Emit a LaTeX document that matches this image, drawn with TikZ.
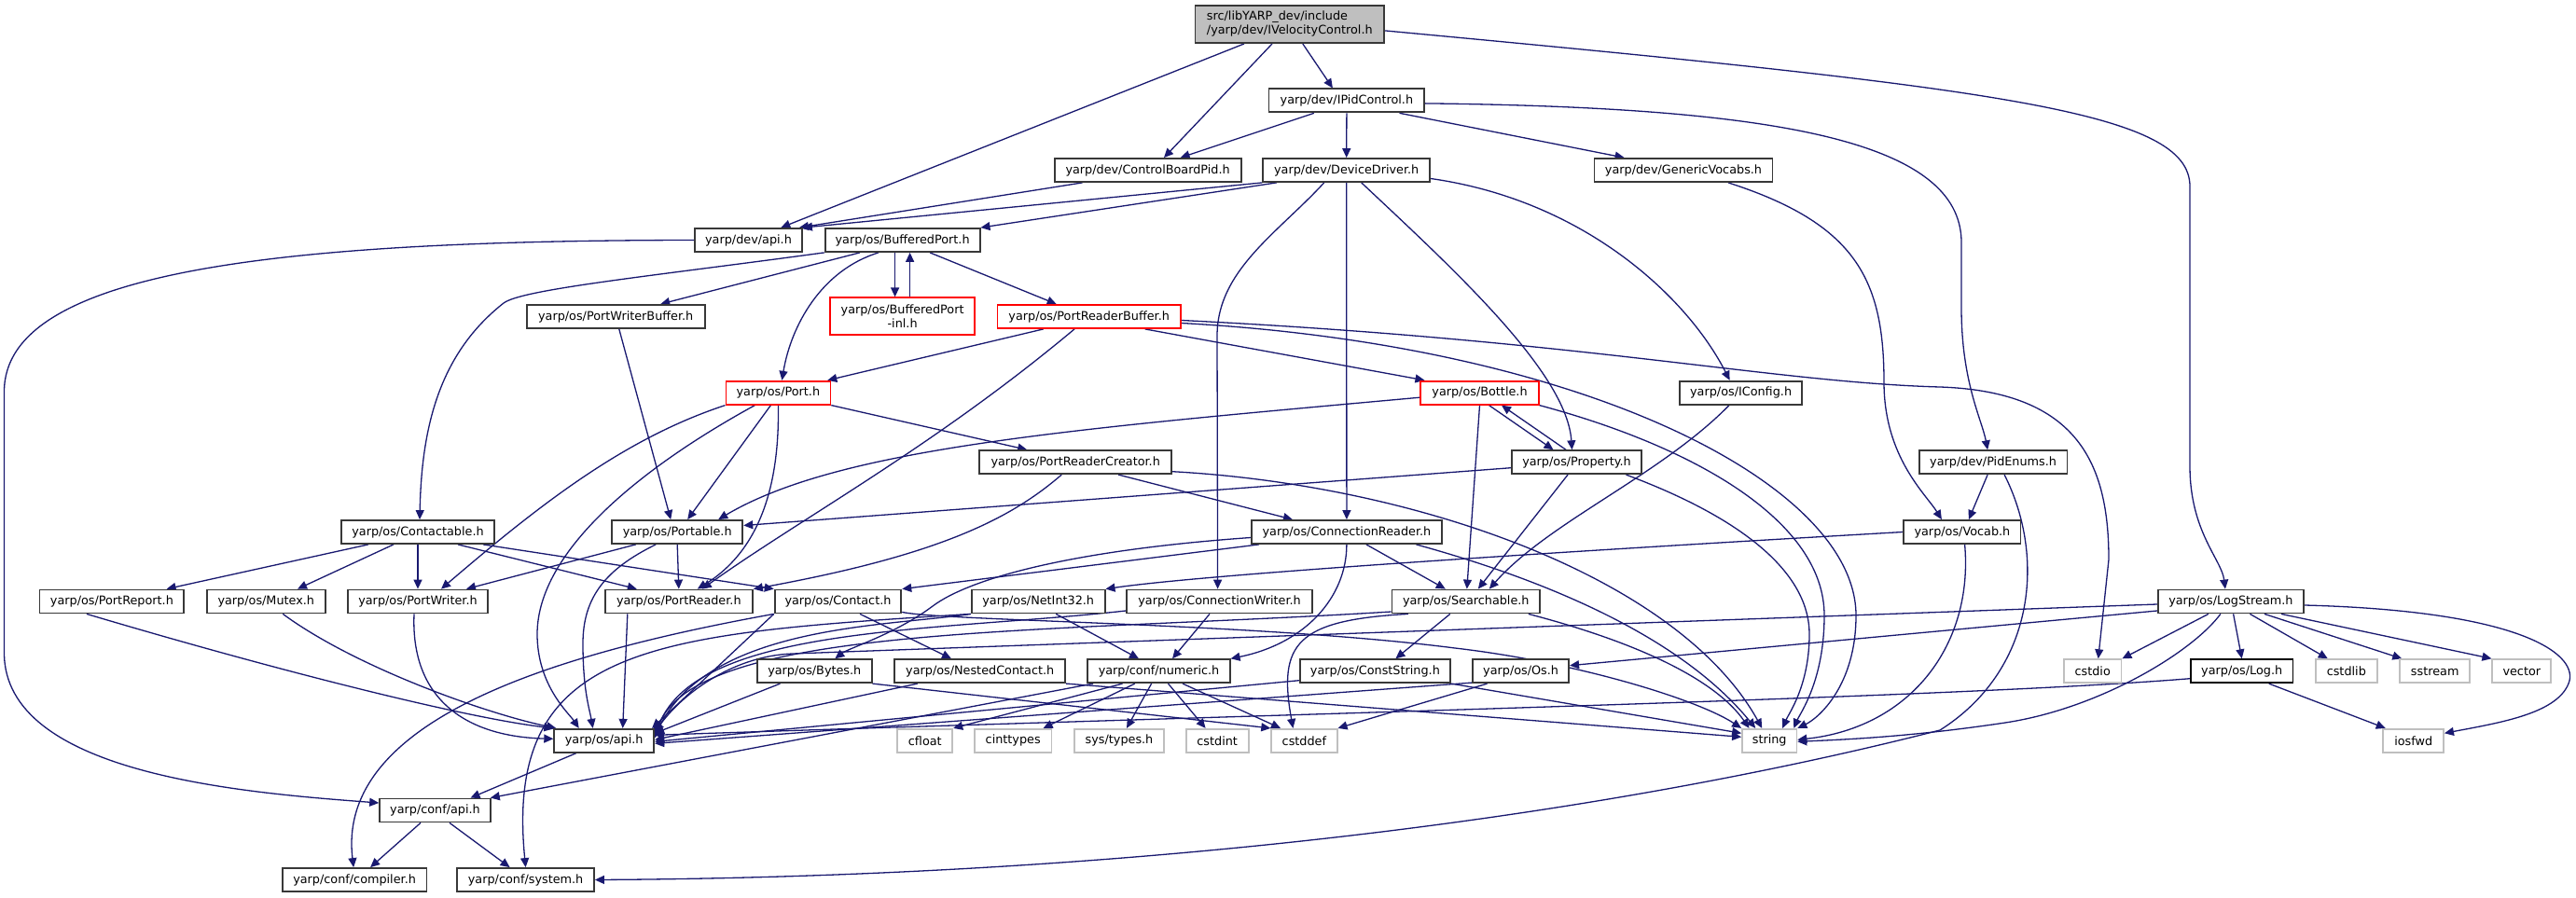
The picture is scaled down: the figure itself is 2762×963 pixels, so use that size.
\documentclass[tikz,border=0pt]{standalone}
\usepackage{fontspec}
\setmainfont{DejaVu Sans}
\usetikzlibrary{arrows.meta}
\definecolor{edgecol}{HTML}{191970}
\definecolor{boxcol}{HTML}{383838}
\definecolor{graycol}{HTML}{BFBFBF}
\definecolor{maincol}{HTML}{BFBFBF}
\pgfdeclarelayer{bg}\pgfdeclarelayer{edges}\pgfsetlayers{bg,edges,main}
\tikzset{
  hdr/.style={draw=boxcol, line width=1.8pt, fill=white, inner sep=0pt, minimum height=25pt, minimum width=#1pt, font=\fontsize{12.8}{15}\selectfont, text=black},
  redhdr/.style={hdr=#1, draw=red},
  syshdr/.style={hdr=#1, draw=graycol},
  dep/.style={draw=edgecol, line width=1.3pt, -{Triangle[length=10pt,width=9pt]}},
}
\begin{document}
\begin{tikzpicture}[x=1pt,y=-1pt]
\useasboundingbox (0,0) rectangle (2762,963);
\begin{pgfonlayer}{bg}
\fill[white] (0,0) rectangle (2762,963);
\end{pgfonlayer}
% nodes
\node[hdr=202.5, fill=maincol, minimum height=40.3pt, align=left] (main) at (1382.8,25.9) {src/libYARP\_dev/include\\/yarp/dev/IVelocityControl.h};
\node[hdr=166.8] (ipid) at (1443.9,107.9) {yarp/dev/IPidControl.h};
\node[hdr=200] (cbpid) at (1230.6,182.5) {yarp/dev/ControlBoardPid.h};
\node[hdr=178.8] (devdrv) at (1443.7,182.5) {yarp/dev/DeviceDriver.h};
\node[hdr=191] (genvoc) at (1805,182.5) {yarp/dev/GenericVocabs.h};
\node[hdr=115] (devapi) at (802.5,257.5) {yarp/dev/api.h};
\node[hdr=166] (bport) at (967.6,257.5) {yarp/os/BufferedPort.h};
\node[redhdr=154.5, minimum height=40pt, align=center] (bpinl) at (967.6,339.3) {yarp/os/BufferedPort\\-inl.h};
\node[redhdr=196.4] (prbuf) at (1167.7,339.5) {yarp/os/PortReaderBuffer.h};
\node[hdr=191] (pwbuf) at (660.2,339.5) {yarp/os/PortWriterBuffer.h};
\node[redhdr=112] (port) at (834.4,421.2) {yarp/os/Port.h};
\node[redhdr=126.3] (bottle) at (1586.5,421.2) {yarp/os/Bottle.h};
\node[hdr=131.2] (iconfig) at (1866.6,421.2) {yarp/os/IConfig.h};
\node[hdr=205.7] (prc) at (1153.2,495.7) {yarp/os/PortReaderCreator.h};
\node[hdr=139] (property) at (1690.5,495.7) {yarp/os/Property.h};
\node[hdr=158.8] (pidenums) at (2137.1,495.7) {yarp/dev/PidEnums.h};
\node[hdr=164] (contactable) at (448,570.5) {yarp/os/Contactable.h};
\node[hdr=140.3] (portable) at (726.2,570.5) {yarp/os/Portable.h};
\node[hdr=204.2] (connreader) at (1443.9,570.5) {yarp/os/ConnectionReader.h};
\node[hdr=125.3] (vocab) at (2103.9,570.5) {yarp/os/Vocab.h};
\node[hdr=154.9] (portreport) at (119.9,645) {yarp/os/PortReport.h};
\node[hdr=126.8] (mutex) at (285.3,645) {yarp/os/Mutex.h};
\node[hdr=150.4] (portwriter) at (448,645) {yarp/os/PortWriter.h};
\node[hdr=158.3] (portreader) at (727.8,645) {yarp/os/PortReader.h};
\node[hdr=135.7] (contact) at (898.5,645) {yarp/os/Contact.h};
\node[hdr=142.8] (netint) at (1113.2,645) {yarp/os/NetInt32.h};
\node[hdr=199.3] (connwriter) at (1307.6,645) {yarp/os/ConnectionWriter.h};
\node[hdr=158.5] (searchable) at (1571.8,645) {yarp/os/Searchable.h};
\node[hdr=156.2] (logstream) at (2391.9,645) {yarp/os/LogStream.h};
\node[hdr=122.7] (bytes) at (873.3,719.7) {yarp/os/Bytes.h};
\node[hdr=183] (nested) at (1050.7,719.7) {yarp/os/NestedContact.h};
\node[hdr=152.3] (numeric) at (1242.5,719.7) {yarp/conf/numeric.h};
\node[hdr=161.2] (conststring) at (1474.4,719.7) {yarp/os/ConstString.h};
\node[hdr=103.1] (os) at (1630.6,719.7) {yarp/os/Os.h};
\node[syshdr=61.6] (cstdio) at (2243.7,719.7) {cstdio};
\node[hdr=109.4, draw=black] (log) at (2403.7,719.7) {yarp/os/Log.h};
\node[syshdr=65.6] (cstdlib) at (2515.8,719.7) {cstdlib};
\node[syshdr=75] (sstream) at (2610.7,719.7) {sstream};
\node[syshdr=62.9] (vector) at (2703.8,719.7) {vector};
\node[hdr=107] (osapi) at (647.7,794.3) {yarp/os/api.h};
\node[syshdr=59] (cfloat) at (991.8,794.3) {cfloat};
\node[syshdr=82.6] (cinttypes) at (1086.2,794.3) {cinttypes};
\node[syshdr=96] (systypes) at (1200,794.3) {sys/types.h};
\node[syshdr=66.9] (cstdint) at (1305.2,794.3) {cstdint};
\node[syshdr=70.4] (cstddef) at (1398.4,794.3) {cstddef};
\node[syshdr=58.4] (string) at (1897.2,794.3) {string};
\node[syshdr=64.7] (iosfwd) at (2587.7,794.3) {iosfwd};
\node[hdr=118.8] (confapi) at (466.5,869) {yarp/conf/api.h};
\node[hdr=154.9] (compiler) at (380.1,943.5) {yarp/conf/compiler.h};
\node[hdr=146.8] (system) at (563.6,943.5) {yarp/conf/system.h};
% edges
\begin{pgfonlayer}{edges}
% main
\draw[dep] ([xshift=-48.8pt]main.south) -- ([xshift=34.8pt]devapi.north);
\draw[dep] ([xshift=-18.8pt]main.south) -- ([xshift=17.4pt]cbpid.north);
\draw[dep] ([xshift=14pt]main.south) -- ([xshift=-15pt]ipid.north);
\draw[dep] ([yshift=-7pt]main.east) .. controls (2150,95) and (2348,120) .. (2348,200) -- (2348,500) .. controls (2348,570) and (2382,600) .. ([xshift=-6pt]logstream.north);
% ipid
\draw[dep] ([xshift=-35pt]ipid.south) -- ([xshift=35pt]cbpid.north);
\draw[dep] (ipid.south) -- (devdrv.north);
\draw[dep] ([xshift=56.6pt]ipid.south) -- ([xshift=-63.4pt]genvoc.north);
\draw[dep] ([yshift=-3pt]ipid.east) .. controls (1900,115) and (2103,150) .. (2103,260) -- (2103,330) .. controls (2103,410) and (2125,450) .. ([xshift=-6pt]pidenums.north);
% cbpid, devdrv
\draw[dep] ([xshift=-70pt]cbpid.south) -- ([xshift=-4pt]devapi.north east);
\draw[dep] (devdrv.south west) -- (devapi.north east);
\draw[dep] ([xshift=-75pt]devdrv.south) -- (bport.north east);
\draw[dep] (devdrv.south) -- (connreader.north);
\draw[dep] ([xshift=-24pt]devdrv.south) .. controls (1370,250) and (1305,290) .. (1305,360) -- ([xshift=-2pt]connwriter.north);
\draw[dep] ([xshift=16pt]devdrv.south) .. controls (1560,290) and (1680,400) .. ([xshift=-5pt]property.north);
\draw[dep] ([yshift=-9pt]devdrv.east) .. controls (1700,215) and (1810,320) .. ([xshift=-12pt]iconfig.north);
% genvoc
\draw[dep] ([xshift=48pt]genvoc.south) .. controls (1990,240) and (2020,300) .. (2020,410) .. controls (2020,490) and (2065,530) .. ([xshift=-22pt]vocab.north);
% devapi
\draw[dep] (devapi.west) .. controls (300,258) and (4.5,290) .. (4.5,420) -- (4.5,700) .. controls (4.5,830) and (260,850) .. ([yshift=8pt]confapi.west);
% bport
\draw[dep] ([xshift=-8pt]bport.south) -- ([xshift=-8pt]bpinl.north);
\draw[dep] ([xshift=8pt]bpinl.north) -- ([xshift=8pt]bport.south);
\draw[dep] ([xshift=-45.6pt]bport.south) -- ([xshift=48pt]pwbuf.north);
\draw[dep] ([xshift=-25.6pt]bport.south) .. controls (880,290) and (848,350) .. ([xshift=4pt]port.north);
\draw[dep] ([xshift=29.4pt]bport.south) -- ([xshift=-35pt]prbuf.north);
\draw[dep] (bport.south west) .. controls (700,296) and (560,310) .. (540,325) .. controls (470,380) and (452,460) .. ([xshift=2pt]contactable.north);
% pwbuf
\draw[dep] ([xshift=3.6pt]pwbuf.south) -- ([xshift=-7pt]portable.north);
% prbuf
\draw[dep] ([xshift=-49pt]prbuf.south) -- ([xshift=-4pt]port.north east);
\draw[dep] ([xshift=-15.7pt]prbuf.south) .. controls (1000,480) and (860,555) .. ([xshift=25pt]portreader.north);
\draw[dep] ([xshift=60pt]prbuf.south) -- ([xshift=5pt]bottle.north west);
\draw[dep] ([yshift=-4pt]prbuf.east) .. controls (1700,365) and (1900,410) .. (2080,415) .. controls (2230,420) and (2261,500) .. (2261,600) -- ([xshift=6pt]cstdio.north);
\draw[dep] ([yshift=-7pt]prbuf.east) .. controls (1700,370) and (1990,520) .. (1990,660) .. controls (1990,735) and (1950,770) .. (string.north east);
% port
\draw[dep] ([xshift=-8pt]port.south) -- ([xshift=11pt]portable.north);
\draw[dep] (port.south) .. controls (836,520) and (815,590) .. ([xshift=20pt]portreader.north);
\draw[dep] (port.south west) .. controls (670,470) and (580,540) .. ([xshift=25pt]portwriter.north);
\draw[dep] ([xshift=-25pt]port.south) .. controls (690,500) and (576,590) .. (576,680) .. controls (576,735) and (610,765) .. ([xshift=-27pt]osapi.north);
\draw[dep] (port.south east) -- ([xshift=-52pt]prc.north);
% bottle
\draw[dep] ([yshift=-5pt]bottle.west) .. controls (1150,460) and (900,480) .. ([xshift=44pt]portable.north);
\draw[dep] ([xshift=10pt]bottle.south) -- ([xshift=-25pt]property.north);
\draw[dep] ([xshift=-11.5pt]property.north) -- ([xshift=23.5pt]bottle.south);
\draw[dep] (bottle.south) -- ([xshift=1pt]searchable.north);
\draw[dep] (bottle.south east) .. controls (1820,480) and (1956,560) .. (1956,660) .. controls (1956,730) and (1930,765) .. ([xshift=-4pt]string.north east);
% property
\draw[dep] ([yshift=-6pt]property.west) -- ([yshift=7pt]portable.east);
\draw[dep] ([xshift=-9.5pt]property.south) -- ([xshift=13pt]searchable.north);
\draw[dep] ([xshift=53pt]property.south) .. controls (1880,560) and (1940,620) .. (1940,680) .. controls (1940,735) and (1918,765) .. ([xshift=14pt]string.north);
% iconfig
\draw[dep] ([xshift=-12.6pt]iconfig.south) .. controls (1780,510) and (1660,560) .. ([xshift=25pt]searchable.north);
% prc
\draw[dep] ([xshift=-15pt]prc.south) .. controls (1085,555) and (1010,595) .. (portreader.north east);
\draw[dep] ([xshift=46pt]prc.south) -- ([xshift=-58pt]connreader.north);
\draw[dep] ([yshift=-10pt]prc.east) .. controls (1520,520) and (1800,620) .. ([xshift=-8pt]string.north);
% portable
\draw[dep] (portable.south) -- (portreader.north);
\draw[dep] ([xshift=-44.5pt]portable.south) -- ([xshift=52pt]portwriter.north);
\draw[dep] ([xshift=-23pt]portable.south) .. controls (650,610) and (625,640) .. (625,690) .. controls (625,740) and (632,760) .. ([xshift=-12pt]osapi.north);
% contactable
\draw[dep] ([xshift=-53pt]contactable.south) -- ([xshift=58.7pt]portreport.north);
\draw[dep] ([xshift=-26pt]contactable.south) -- ([xshift=33.7pt]mutex.north);
\draw[dep] (contactable.south) -- (portwriter.north);
\draw[dep] ([xshift=43pt]contactable.south) -- ([xshift=-45pt]portreader.north);
\draw[dep] ([xshift=70pt]contactable.south) -- (contact.north west);
% to os/api.h from the left row
\draw[dep] ([xshift=-27pt]portreport.south) .. controls (300,720) and (500,770) .. (osapi.north west);
\draw[dep] ([xshift=18pt]mutex.south) .. controls (380,715) and (520,765) .. ([xshift=3pt]osapi.north west);
\draw[dep] ([xshift=-4pt]portwriter.south) .. controls (440,750) and (500,790) .. ([yshift=2pt]osapi.west);
\draw[dep] ([xshift=-55pt]portreader.south) -- ([xshift=20pt]osapi.north);
% contact
\draw[dep] ([xshift=23.5pt]contact.south) -- ([xshift=-30.7pt]nested.north);
\draw[dep] ([yshift=2pt]contact.south east) .. controls (1010,666) and (1350,668) .. (1560,695) .. controls (1690,710) and (1820,750) .. (string.north west);
\draw[dep] (contact.south west) -- ([xshift=-3pt]osapi.north east);
\draw[dep] (contact.south west) .. controls (600,700) and (360,770) .. ([xshift=-1pt]compiler.north);
% connreader
\draw[dep] ([xshift=9pt]connreader.south west) -- (contact.north east);
\draw[dep] ([yshift=-6pt]connreader.west) .. controls (1150,590) and (1040,620) .. (1000,650) .. controls (960,680) and (910,695) .. ([xshift=22pt]bytes.north);
\draw[dep] (connreader.south) .. controls (1443.9,640) and (1400,690) .. (numeric.north east);
\draw[dep] ([xshift=21pt]connreader.south) -- ([xshift=-22pt]searchable.north);
\draw[dep] ([xshift=74.5pt]connreader.south) .. controls (1650,620) and (1800,680) .. ([xshift=-15pt]string.north);
% vocab, pidenums
\draw[dep] (vocab.west) .. controls (1700,590) and (1300,615) .. (netint.north east);
\draw[dep] ([xshift=2.7pt]vocab.south) .. controls (2116,690) and (2050,780) .. ([yshift=1pt]string.east);
\draw[dep] ([xshift=-6pt]pidenums.south) -- ([xshift=7pt]vocab.north);
\draw[dep] ([xshift=12pt]pidenums.south) .. controls (2195,600) and (2180,720) .. (2080,783) .. controls (1700,880) and (1200,940) .. (system.east);
% logstream
\draw[dep] ([xshift=-24pt]logstream.south) -- (cstdio.north east);
\draw[dep] ([xshift=-11pt]logstream.south) .. controls (2350,700) and (2250,760) .. (2150,775) .. controls (2050,790) and (1980,793) .. ([yshift=-1pt]string.east);
\draw[dep] ([xshift=2.7pt]logstream.south) -- (log.north);
\draw[dep] ([xshift=20.5pt]logstream.south) -- ([xshift=-20pt]cstdlib.north);
\draw[dep] ([xshift=36pt]logstream.south) -- ([xshift=3pt]sstream.north west);
\draw[dep] ([xshift=54pt]logstream.south) -- (vector.north west);
\draw[dep] ([yshift=-4pt]logstream.east) .. controls (2700,655) and (2762,700) .. (2755,730) .. controls (2745,765) and (2680,775) .. ([yshift=8pt]iosfwd.east);
\draw[dep] ([yshift=-10pt]logstream.west) -- ([yshift=6pt]os.east);
\draw[dep] ([yshift=-3pt]logstream.west) -- (850,701) .. controls (790,703) and (735,740) .. ([yshift=-4pt]osapi.north east);
% log
\draw[dep] ([yshift=-8pt]log.west) .. controls (2100,748) and (1400,765) .. ([yshift=6pt]osapi.east);
\draw[dep] ([xshift=29pt]log.south) -- ([xshift=-30pt]iosfwd.north);
% searchable
\draw[dep] ([yshift=-11pt]searchable.west) .. controls (1100,680) and (740,670) .. ([yshift=4pt]osapi.east);
\draw[dep] ([xshift=-17pt]searchable.south) -- ([xshift=22pt]conststring.north);
\draw[dep] ([xshift=67pt]searchable.south) .. controls (1760,690) and (1840,730) .. ([xshift=-21.7pt]string.north);
\draw[dep] ([xshift=-62pt]searchable.south) .. controls (1390,665) and (1370,690) .. ([xshift=-12pt]cstddef.north);
% conststring, os
\draw[dep] ([yshift=-10pt]conststring.west) -- ([yshift=-1pt]osapi.east);
\draw[dep] (conststring.south east) -- ([yshift=8pt]string.west);
\draw[dep] ([yshift=1pt]os.south west) -- ([yshift=-3pt]osapi.east);
\draw[dep] ([xshift=-36pt]os.south) -- (cstddef.north east);
% netint, connwriter
\draw[dep] ([xshift=19pt]netint.south) -- ([xshift=-21.5pt]numeric.north);
\draw[dep] (netint.south west) .. controls (950,672) and (760,670) .. ([yshift=5pt]osapi.east);
\draw[dep] (netint.south west) .. controls (700,680) and (540,690) .. (system.north);
\draw[dep] ([xshift=-10.6pt]connwriter.south) -- ([xshift=14.5pt]numeric.north);
\draw[dep] ([yshift=-10pt]connwriter.west) .. controls (1000,678) and (740,670) .. ([yshift=3pt]osapi.east);
% bytes, nested
\draw[dep] ([xshift=25.4pt]bytes.south west) -- ([yshift=8pt]osapi.east);
\draw[dep] (bytes.south east) -- (cstddef.north west);
\draw[dep] ([xshift=25.4pt]nested.south west) -- ([yshift=1pt]osapi.east);
\draw[dep] (nested.south east) -- ([yshift=4pt]string.west);
% numeric
\draw[dep] ([xshift=-70.5pt]numeric.south) -- ([xshift=-1pt]confapi.north east);
\draw[dep] ([xshift=-39pt]numeric.south) -- (cfloat.north east);
\draw[dep] ([xshift=-25.7pt]numeric.south) -- ([xshift=32.4pt]cinttypes.north);
\draw[dep] ([xshift=-7.9pt]numeric.south) -- ([xshift=8pt]systypes.north);
\draw[dep] ([xshift=10pt]numeric.south) -- ([xshift=-12.6pt]cstdint.north);
\draw[dep] ([xshift=25.5pt]numeric.south) -- ([xshift=-25.4pt]cstddef.north);
% api chain
\draw[dep] ([xshift=-30pt]osapi.south) -- ([xshift=38pt]confapi.north);
\draw[dep] ([xshift=-15.5pt]confapi.south) -- ([xshift=17pt]compiler.north);
\draw[dep] ([xshift=15.5pt]confapi.south) -- ([xshift=-17pt]system.north);
\end{pgfonlayer}
\end{tikzpicture}
\end{document}
